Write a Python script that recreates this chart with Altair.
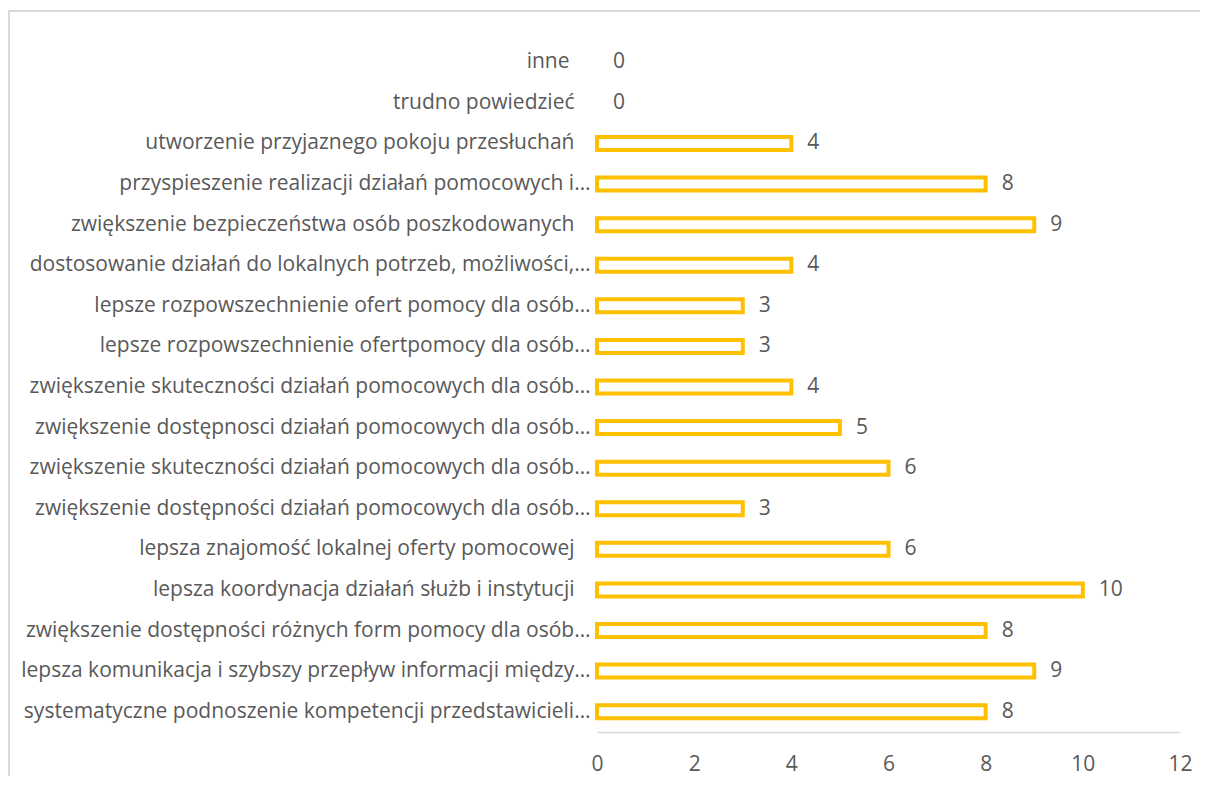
import altair as alt
import pandas as pd

categories = [
    "inne",
    "trudno powiedzieć",
    "utworzenie przyjaznego pokoju przesłuchań",
    "przyspieszenie realizacji działań pomocowych i…",
    "zwiększenie bezpieczeństwa osób poszkodowanych",
    "dostosowanie działań do lokalnych potrzeb, możliwości,…",
    "lepsze rozpowszechnienie ofert pomocy dla osób…",
    "lepsze rozpowszechnienie ofertpomocy dla osób…",
    "zwiększenie skuteczności działań pomocowych dla osób…",
    "zwiększenie dostępnosci działań pomocowych dla osób…",
    "zwiększenie skuteczności działań pomocowych dla osób… ",
    "zwiększenie dostępności działań pomocowych dla osób…",
    "lepsza znajomość lokalnej oferty pomocowej",
    "lepsza koordynacja działań służb i instytucji",
    "zwiększenie dostępności różnych form pomocy dla osób…",
    "lepsza komunikacja i szybszy przepływ informacji między…",
    "systematyczne podnoszenie kompetencji przedstawicieli…",
]
values = [0, 0, 4, 8, 9, 4, 3, 3, 4, 5, 6, 3, 6, 10, 8, 9, 8]
x_ticks = [0, 2, 4, 6, 8, 10, 12]

df = pd.DataFrame({"cat": categories, "value": values})

FONT = "Open Sans"
GREY = "#595959"
GOLD = "#FFC000"
W, H = 583, 690

y_enc = alt.Y("cat:N", sort=categories, title=None,
              scale=alt.Scale(paddingInner=0, paddingOuter=0),
              axis=alt.Axis(ticks=False, domain=False, labelLimit=0,
                            labelPadding={"condition": [
                                {"test": "indexof(datum.value, '…') >= 0", "value": 7},
                                {"test": "datum.value == 'inne'", "value": 28}],
                                "value": 23},
                            labelFont=FONT, labelFontSize=21, labelColor=GREY))
x_enc = alt.X("value:Q", title=None, scale=alt.Scale(domain=[0, 12], nice=False),
              axis=alt.Axis(values=x_ticks, ticks=False, grid=False, domain=True,
                            domainColor="#D9D9D9", domainWidth=1.5, labelFlush=False,
                            labelFont=FONT, labelFontSize=21, labelColor=GREY,
                            labelPadding=21))

base = alt.Chart(df)
bars = base.transform_filter("datum.value > 0").mark_bar(
    fill="white", stroke=GOLD, strokeWidth=4
).encode(x=x_enc, y=y_enc, size=alt.value(13))

labels = base.mark_text(align="left", baseline="middle", dx=16, font=FONT,
                        fontSize=21, color=GREY).encode(
    x="value:Q", y=alt.Y("cat:N", sort=categories), text="value:Q")

frame_top = base.mark_rule(color="#D9D9D9", strokeWidth=2).encode(
    x=alt.value(-589), x2=alt.value(612), y=alt.value(-31))
frame_left = base.mark_rule(color="#D9D9D9", strokeWidth=2).encode(
    x=alt.value(-588.5), y=alt.value(-32), y2=alt.value(760))

chart = alt.layer(bars, labels, frame_top, frame_left).properties(
    width=W, height=H,
    autosize=alt.AutoSizeParams(type="none"),
    padding={"left": 589, "top": 34, "right": 20, "bottom": 44},
).configure(background="white").configure_view(stroke=None)

chart.save("out.html", embed_options={"renderer": "svg", "actions": False})
